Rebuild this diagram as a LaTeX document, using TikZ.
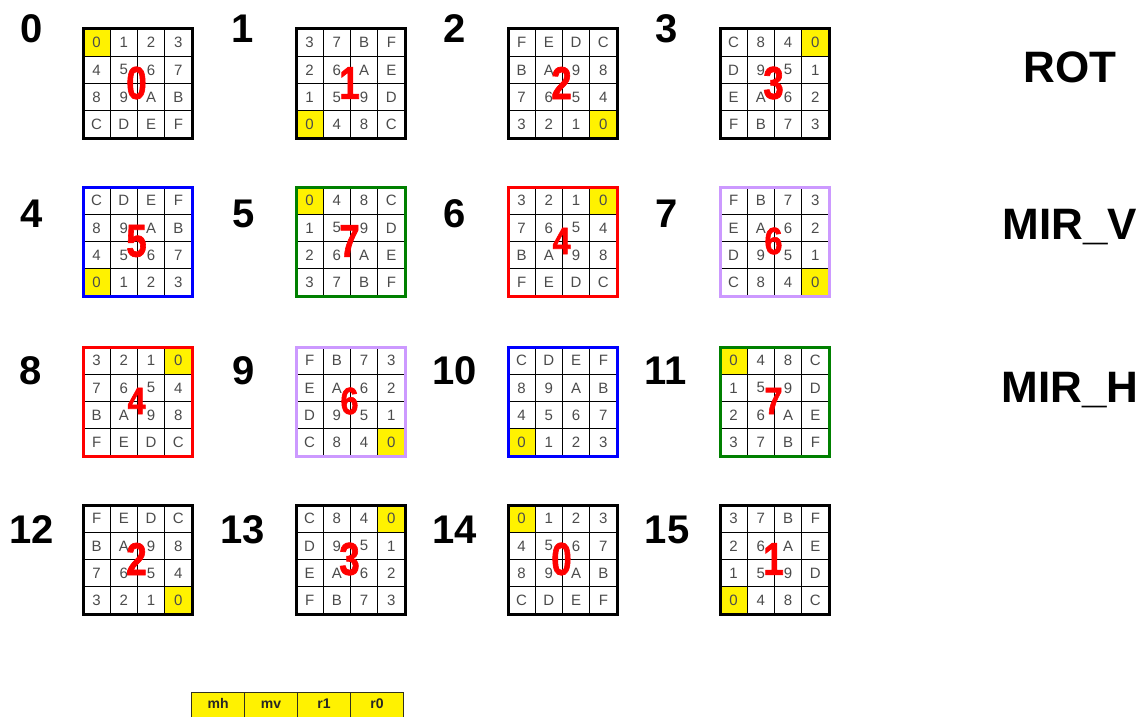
\documentclass[tikz,border=0pt]{standalone}
\usepackage{fontspec}
\setmainfont{Liberation Sans}
\newfontfamily\redfont[FakeBold=1.6]{Liberation Sans Bold}
\definecolor{lav}{RGB}{204,153,255}
\definecolor{mygreen}{RGB}{0,128,0}
\definecolor{myblue}{RGB}{0,0,255}
\definecolor{celltext}{RGB}{75,75,75}
\tikzset{
  cellbox/.style={draw=black, line width=1.3pt, minimum size=27.25pt, inner sep=0pt,
    font=\fontsize{15}{15}\selectfont, text=celltext},
  gridframe/.style={line width=3pt, minimum size=109pt, inner sep=0pt},
  bignum/.style={font=\fontsize{40}{40}\bfseries\selectfont, inner sep=0pt},
  rowlabel/.style={font=\fontsize{44}{44}\bfseries\selectfont, inner sep=0pt},
  redbig/.style={text=red, font=\fontsize{46}{46}\redfont, xscale=0.8, inner sep=0pt},
  redsmall/.style={text=red, font=\fontsize{38}{38}\redfont, xscale=0.85, inner sep=0pt},
  barcell/.style={draw={rgb,255:red,50;green,50;blue,30}, line width=1.2pt, fill=yellow,
    minimum width=53pt, minimum height=28pt, inner sep=0pt, anchor=north west,
    text height=10pt, text depth=6pt, font=\fontsize{14}{14}\bfseries\selectfont, text=black!85}
}
% #1 name, #2 left, #3 top, #4 frame colour, #5 cells, #6 red text, #7 red style
\newcommand{\drawgrid}[7]{%
  \foreach \v [count=\k from 0] in {#5}{%
    \pgfmathtruncatemacro\cx{mod(\k,4)}%
    \pgfmathtruncatemacro\cy{div(\k,4)}%
    \expandafter\ifx\v0\def\cellfill{yellow}\else\def\cellfill{white}\fi
    \node[cellbox, fill=\cellfill] (#1c\k) at ({#2+27.25*(\cx+0.5)},{#3+27.25*(\cy+0.5)}) {\v};
  }
  \node[gridframe, draw=#4] (#1) at ({#2+54.5},{#3+54.5}) {};
  \node[#7] (#1r) at ({#2+53.5},{#3+54}) {#6};
}
\begin{document}
\begin{tikzpicture}[x=1pt,y=-1pt]
\fill[white] (0,0) rectangle (1141,717);
\useasboundingbox (0,0) rectangle (1141,717);

% big index numbers
\node[bignum] (n0) at (32,29) {0};
\node[bignum] (n1) at (243,29) {1};
\node[bignum] (n2) at (455,29) {2};
\node[bignum] (n3) at (667,29) {3};
\node[bignum] (n4) at (32,214) {4};
\node[bignum] (n5) at (244,214) {5};
\node[bignum] (n6) at (455,214) {6};
\node[bignum] (n7) at (667,214) {7};
\node[bignum] (n8) at (31,371) {8};
\node[bignum] (n9) at (244,371) {9};
\node[bignum] (n10) at (455,371) {10};
\node[bignum] (n11) at (666,371) {11};
\node[bignum] (n12) at (32,530) {12};
\node[bignum] (n13) at (243,530) {13};
\node[bignum] (n14) at (455,530) {14};
\node[bignum] (n15) at (667,530) {15};

% row 0 (ROT)
\drawgrid{g0}{83}{29}{black}{0,1,2,3,4,5,6,7,8,9,A,B,C,D,E,F}{0}{redbig}
\drawgrid{g1}{296}{29}{black}{3,7,B,F,2,6,A,E,1,5,9,D,0,4,8,C}{1}{redbig}
\drawgrid{g2}{508}{29}{black}{F,E,D,C,B,A,9,8,7,6,5,4,3,2,1,0}{2}{redbig}
\drawgrid{g3}{720}{29}{black}{C,8,4,0,D,9,5,1,E,A,6,2,F,B,7,3}{3}{redbig}
% row 1 (MIR_V)
\drawgrid{g4}{83}{187}{myblue}{C,D,E,F,8,9,A,B,4,5,6,7,0,1,2,3}{5}{redbig}
\drawgrid{g5}{296}{187}{mygreen}{0,4,8,C,1,5,9,D,2,6,A,E,3,7,B,F}{7}{redbig}
\drawgrid{g6}{508}{187}{red}{3,2,1,0,7,6,5,4,B,A,9,8,F,E,D,C}{4}{redsmall}
\drawgrid{g7}{720}{187}{lav}{F,B,7,3,E,A,6,2,D,9,5,1,C,8,4,0}{6}{redsmall}
% row 2 (MIR_H)
\drawgrid{g8}{83}{347}{red}{3,2,1,0,7,6,5,4,B,A,9,8,F,E,D,C}{4}{redsmall}
\drawgrid{g9}{296}{347}{lav}{F,B,7,3,E,A,6,2,D,9,5,1,C,8,4,0}{6}{redsmall}
\drawgrid{g10}{508}{347}{myblue}{C,D,E,F,8,9,A,B,4,5,6,7,0,1,2,3}{}{redsmall}
\drawgrid{g11}{720}{347}{mygreen}{0,4,8,C,1,5,9,D,2,6,A,E,3,7,B,F}{7}{redsmall}
% row 3
\drawgrid{g12}{83}{505}{black}{F,E,D,C,B,A,9,8,7,6,5,4,3,2,1,0}{2}{redbig}
\drawgrid{g13}{296}{505}{black}{C,8,4,0,D,9,5,1,E,A,6,2,F,B,7,3}{3}{redbig}
\drawgrid{g14}{508}{505}{black}{0,1,2,3,4,5,6,7,8,9,A,B,C,D,E,F}{0}{redbig}
\drawgrid{g15}{720}{505}{black}{3,7,B,F,2,6,A,E,1,5,9,D,0,4,8,C}{1}{redbig}

% row labels
\node[rowlabel] (rot) at (1070,67) {ROT};
\node[rowlabel] (mirv) at (1070,227) {MIR\_V};
\node[rowlabel] (mirh) at (1070,390) {MIR\_H};

% bottom bit bar
\node[barcell] (mh) at (191,692) {mh};
\node[barcell] (mv) at (244,692) {mv};
\node[barcell] (r1) at (297,692) {r1};
\node[barcell] (r0) at (350,692) {r0};
\end{tikzpicture}
\end{document}
